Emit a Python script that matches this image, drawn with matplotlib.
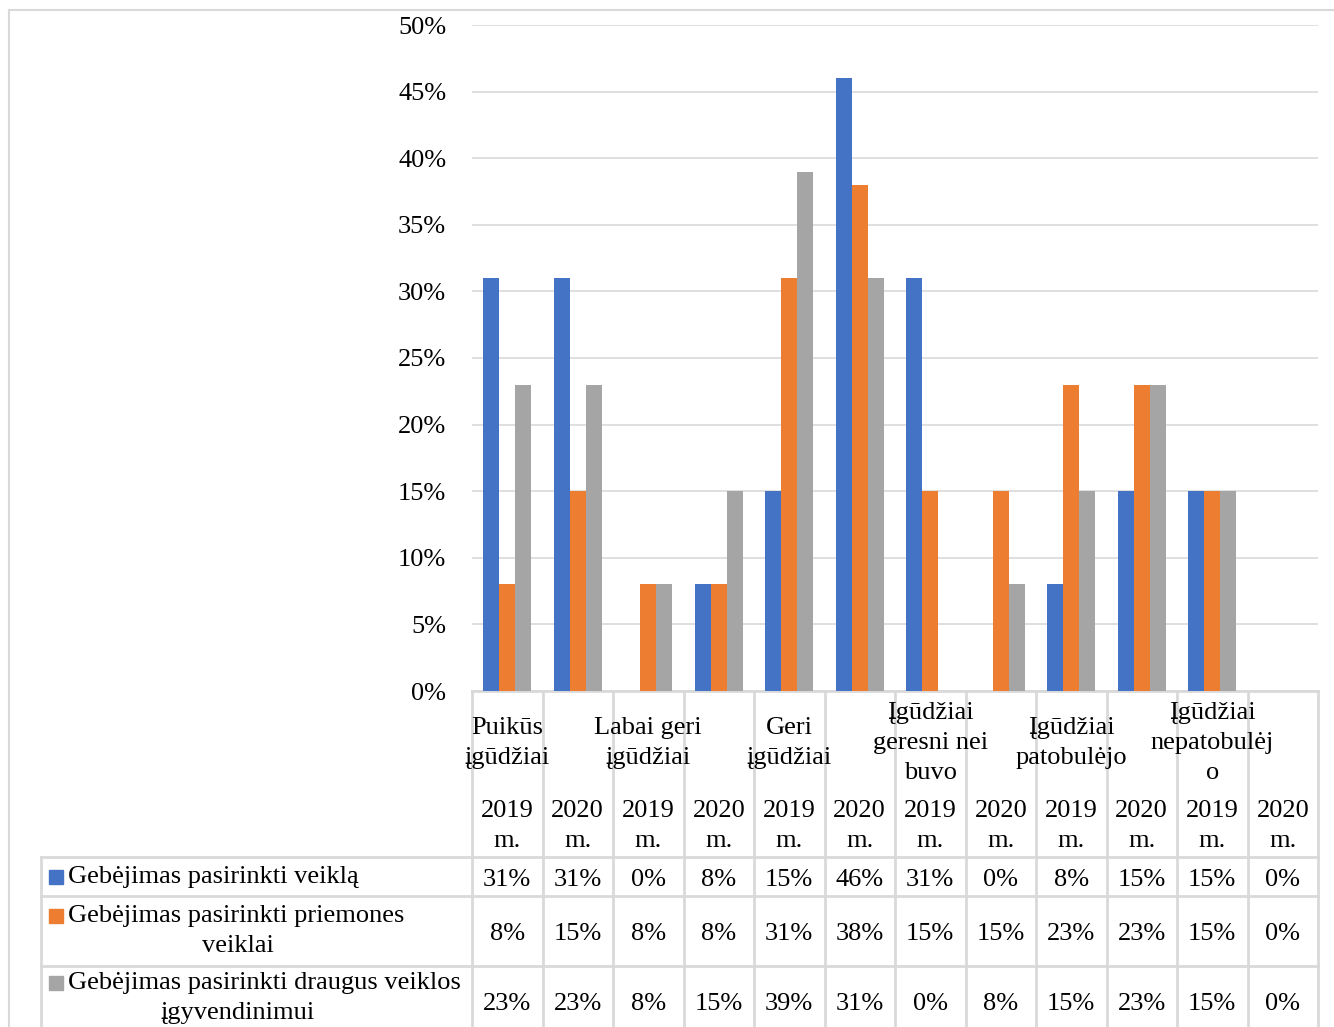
import matplotlib.pyplot as plt
import matplotlib as mpl

plt.rcParams['font.family'] = ['Liberation Serif', 'DejaVu Serif']

# chart data
groups = ['Puikūs\nįgūdžiai', 'Labai geri\nįgūdžiai', 'Geri\nįgūdžiai',
          'Įgūdžiai\ngeresni nei\nbuvo', 'Įgūdžiai\npatobulėjo', 'Įgūdžiai\nnepatobulėj\no']
years = ['2019\nm.', '2020\nm.']
series_names = ['Gebėjimas pasirinkti veiklą',
                'Gebėjimas pasirinkti priemones\nveiklai',
                'Gebėjimas pasirinkti draugus veiklos\nįgyvendinimui']
veikla = [31, 31, 0, 8, 15, 46, 31, 0, 8, 15, 15, 0]
priemones = [8, 15, 8, 8, 31, 38, 15, 15, 23, 23, 15, 0]
draugai = [23, 23, 8, 15, 39, 31, 0, 8, 15, 23, 15, 0]
colors = ['#4472C4', '#ED7D31', '#A5A5A5']

W, H = 1334, 1027
grid_c = '#d9d9d9'
fs = 19
dy = 3  # small vertical nudge so text sits like the reference

fig = plt.figure(figsize=(W / 100, H / 100), dpi=100)

# overlay in pixel coords for frame and data table
ov = fig.add_axes([0, 0, 1, 1])
ov.set_xlim(0, W)
ov.set_ylim(H, 0)
ov.axis('off')

x0, x1 = 472, 1318
y_top, y_zero = 25, 691
ax = fig.add_axes([x0 / W, (H - y_zero) / H, (x1 - x0) / W, (y_zero - y_top) / H])
ax.set_zorder(2)
ax.patch.set_alpha(0)

n = len(veikla)
bw = 0.226
for k, vals in enumerate([veikla, priemones, draugai]):
    ax.bar([i + (k - 1) * bw for i in range(n)], [v / 100 for v in vals], width=bw,
           color=colors[k], zorder=3)

ax.set_xlim(-0.5, n - 0.5)
ax.set_ylim(0, 0.5)
ax.set_yticks([i * 0.05 for i in range(11)])
ax.yaxis.set_major_formatter(mpl.ticker.FuncFormatter(lambda v, p: '%d%%' % round(v * 100)))
ax.tick_params(axis='y', length=0, pad=18.5, labelsize=fs)
ax.set_xticks([])
ax.grid(axis='y', color=grid_c, linewidth=1.2, zorder=0)
for s in ax.spines.values():
    s.set_visible(False)

# outer frame
ov.plot([9, W], [10, 10], color=grid_c, lw=1.5)
ov.plot([9, 9], [10, H], color=grid_c, lw=1.5)

# table grid
colw = (x1 - x0) / n
edges = [x0 + i * colw for i in range(n + 1)]
row_y = [857, 896, 966, 1036]
ov.plot([x0, x1], [y_zero, y_zero], color=grid_c, lw=2)
for y in row_y:
    ov.plot([41, x1], [y, y], color=grid_c, lw=2)
for xe in edges:
    ov.plot([xe, xe], [y_zero, H], color=grid_c, lw=2)
ov.plot([41, 41], [row_y[0], H], color=grid_c, lw=2)

lh = 30
# category labels (centered on first column of each pair)
for g, lab in enumerate(groups):
    lines = lab.split('\n')
    cx = edges[2 * g] + colw / 2
    for j, t in enumerate(lines):
        ov.text(cx, 740 + dy + (j - (len(lines) - 1) / 2) * lh, t, ha='center', va='center',
                fontsize=fs, zorder=5)
for i in range(n):
    cx = edges[i] + colw / 2
    for j, t in enumerate(years[i % 2].split('\n')):
        ov.text(cx, 808 + dy + j * lh, t, ha='center', va='center', fontsize=fs)

# series rows
centers = [(row_y[r] + row_y[r + 1]) / 2 for r in range(3)]
for r, vals in enumerate([veikla, priemones, draugai]):
    for i, v in enumerate(vals):
        ov.text(edges[i] + colw / 2, centers[r] + dy, '%d%%' % v, ha='center', va='center', fontsize=fs)
    lines = series_names[r].split('\n')
    y1 = centers[r] - (len(lines) - 1) * lh / 2 - (3 if r == 2 else 0)
    ov.add_patch(mpl.patches.Rectangle((49, y1 - 7), 14, 14, color=colors[r]))
    ov.text(68, y1, lines[0], ha='left', va='center', fontsize=fs)
    for j, t in enumerate(lines[1:]):
        ov.text(238, y1 + (j + 1) * lh, t, ha='center', va='center', fontsize=fs)

fig.savefig('out.png', dpi=100)
